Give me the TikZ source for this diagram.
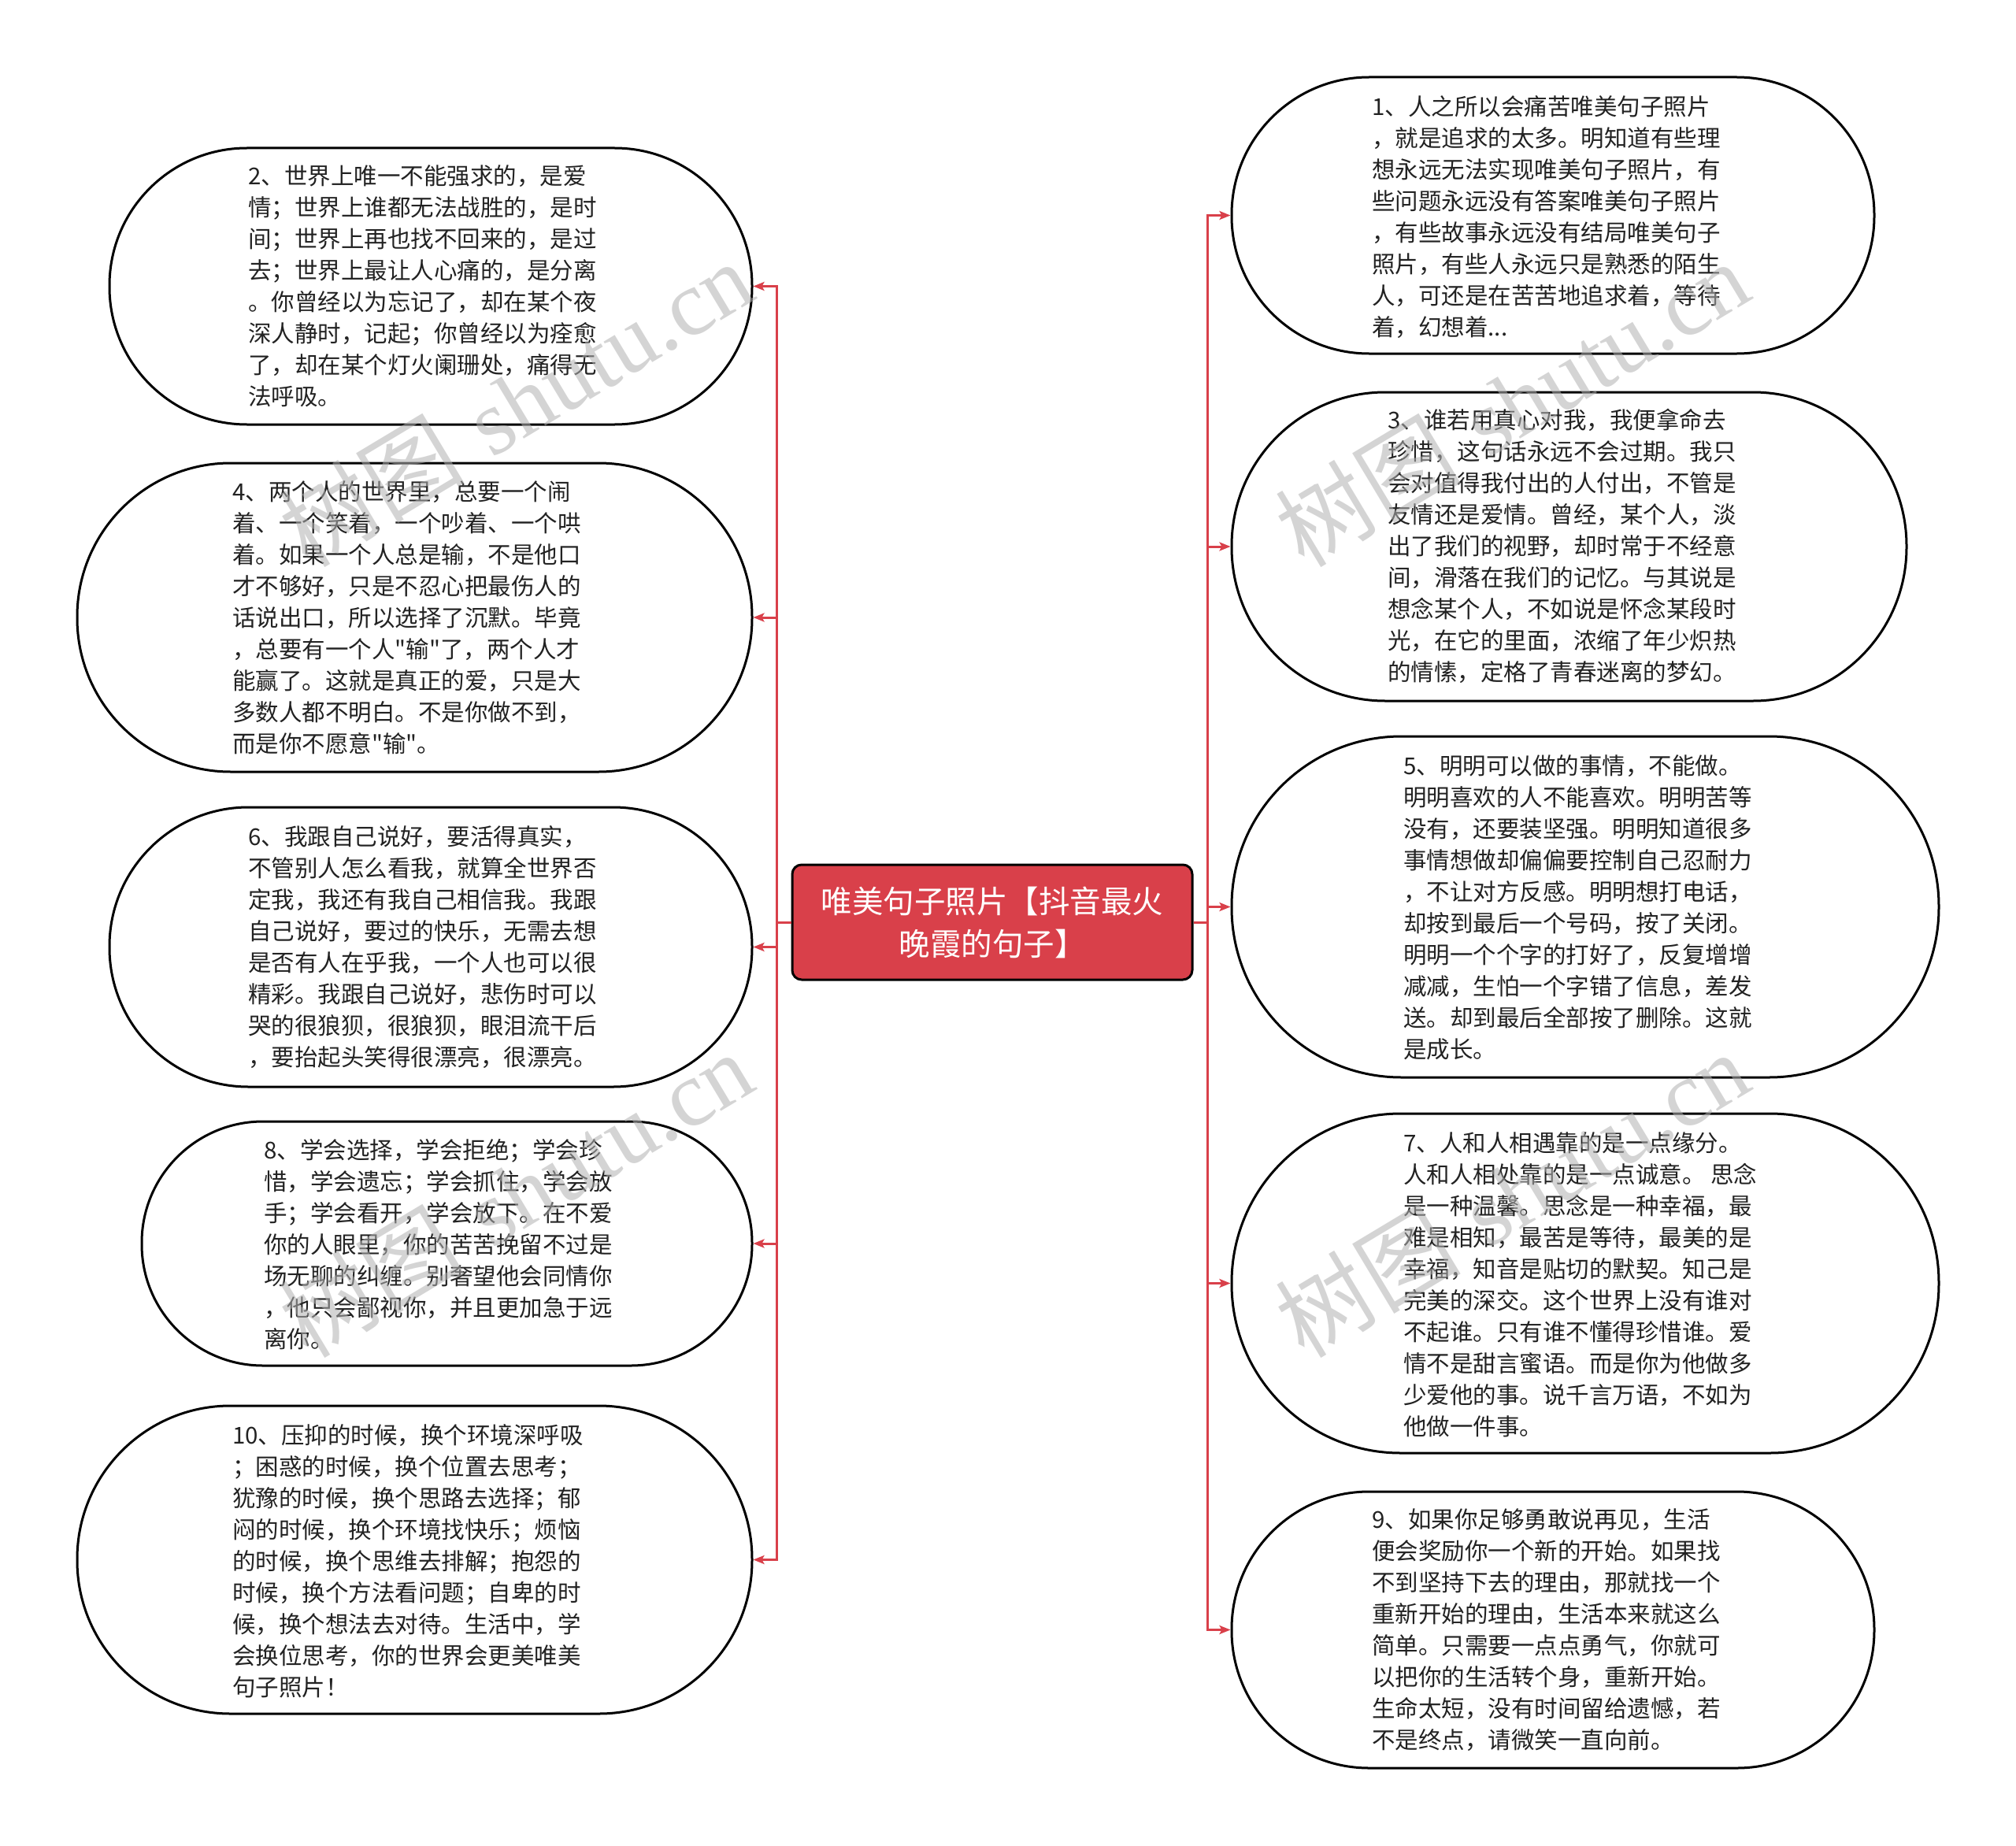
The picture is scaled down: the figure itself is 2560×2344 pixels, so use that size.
\documentclass[tikz,border=0pt]{standalone}
\usepackage{fontspec}
\newfontfamily\cjk{Noto Sans CJK SC}
\newfontfamily\wmserif{Liberation Serif}
\usetikzlibrary{arrows.meta}
\definecolor{brred}{HTML}{D9404A}
\definecolor{txtc}{HTML}{222222}
\begin{document}
\begin{tikzpicture}[x=1pt,y=-1pt,
  bubble/.style={draw=black, line width=3pt, fill=white, rectangle, inner sep=0pt},
  body/.style={anchor=west, inner sep=0pt, align=left, text=txtc,
    font=\cjk\fontsize{29.5pt}{40pt}\selectfont},
  root/.style={draw=black, line width=3pt, fill=brred, rounded corners=12pt,
    minimum width=508pt, minimum height=146pt, inner sep=0pt, align=center,
    text=white, font=\cjk\fontsize{39.5pt}{54pt}\selectfont},
  conn/.style={draw=brred, line width=3pt, -{Stealth[length=14pt,width=11pt,inset=3pt]}},
  wm/.style={text=black!30, opacity=0.55, inner sep=0pt,
    font=\fontsize{118pt}{118pt}\selectfont}]
\fill[white] (0,0) rectangle (2560,2344);
\useasboundingbox (0,0) rectangle (2560,2344);

% root
\node[root] (c) at (1260,1171) {唯美句子照片【抖音最火\\晚霞的句子】};

% left bubbles
\node[bubble, minimum width=816pt, minimum height=351pt, rounded corners=174.5pt] (n2) at (547,363.5) {};
\node[bubble, minimum width=857pt, minimum height=392pt, rounded corners=195pt] (n4) at (526.5,784) {};
\node[bubble, minimum width=816pt, minimum height=355pt, rounded corners=176.5pt] (n6) at (547,1202.5) {};
\node[bubble, minimum width=775pt, minimum height=310pt, rounded corners=154pt] (n8) at (567.5,1579) {};
\node[bubble, minimum width=857pt, minimum height=391pt, rounded corners=194.5pt] (n10) at (526.5,1980.5) {};
% right bubbles
\node[bubble, minimum width=816pt, minimum height=351pt, rounded corners=174.5pt] (n1) at (1972,273.5) {};
\node[bubble, minimum width=857pt, minimum height=392pt, rounded corners=195pt] (n3) at (1992.5,694) {};
\node[bubble, minimum width=898pt, minimum height=433pt, rounded corners=215.5pt] (n5) at (2013,1151.5) {};
\node[bubble, minimum width=898pt, minimum height=431pt, rounded corners=214.5pt] (n7) at (2013,1629.5) {};
\node[bubble, minimum width=816pt, minimum height=351pt, rounded corners=174.5pt] (n9) at (1972,2069.5) {};

% texts
\node[body] (t2) at (315,363.5) {2、世界上唯一不能强求的，是爱\\情；世界上谁都无法战胜的，是时\\间；世界上再也找不回来的，是过\\去；世界上最让人心痛的，是分离\\。你曾经以为忘记了，却在某个夜\\深人静时，记起；你曾经以为痊愈\\了，却在某个灯火阑珊处，痛得无\\法呼吸。};
\node[body] (t4) at (295,784) {4、两个人的世界里，总要一个闹\\着、一个笑着，一个吵着、一个哄\\着。如果一个人总是输，不是他口\\才不够好，只是不忍心把最伤人的\\话说出口，所以选择了沉默。毕竟\\，总要有一个人"输"了，两个人才\\能赢了。这就是真正的爱，只是大\\多数人都不明白。不是你做不到，\\而是你不愿意"输"。};
\node[body] (t6) at (315,1203) {6、我跟自己说好，要活得真实，\\不管别人怎么看我，就算全世界否\\定我，我还有我自己相信我。我跟\\自己说好，要过的快乐，无需去想\\是否有人在乎我，一个人也可以很\\精彩。我跟自己说好，悲伤时可以\\哭的很狼狈，很狼狈，眼泪流干后\\，要抬起头笑得很漂亮，很漂亮。};
\node[body] (t8) at (335,1580) {8、学会选择，学会拒绝；学会珍\\惜，学会遗忘；学会抓住，学会放\\手；学会看开，学会放下。在不爱\\你的人眼里，你的苦苦挽留不过是\\场无聊的纠缠。别奢望他会同情你\\，他只会鄙视你，并且更加急于远\\离你。};
\node[body] (t10) at (295,1982) {10、压抑的时候，换个环境深呼吸\\；困惑的时候，换个位置去思考；\\犹豫的时候，换个思路去选择；郁\\闷的时候，换个环境找快乐；烦恼\\的时候，换个思维去排解；抱怨的\\时候，换个方法看问题；自卑的时\\候，换个想法去对待。生活中，学\\会换位思考，你的世界会更美唯美\\句子照片！};
\node[body] (t1) at (1742,276) {1、人之所以会痛苦唯美句子照片\\，就是追求的太多。明知道有些理\\想永远无法实现唯美句子照片，有\\些问题永远没有答案唯美句子照片\\，有些故事永远没有结局唯美句子\\照片，有些人永远只是熟悉的陌生\\人，可还是在苦苦地追求着，等待\\着，幻想着...};
\node[body] (t3) at (1762,693) {3、谁若用真心对我，我便拿命去\\珍惜，这句话永远不会过期。我只\\会对值得我付出的人付出，不管是\\友情还是爱情。曾经，某个人，淡\\出了我们的视野，却时常于不经意\\间，滑落在我们的记忆。与其说是\\想念某个人，不如说是怀念某段时\\光，在它的里面，浓缩了年少炽热\\的情愫，定格了青春迷离的梦幻。};
\node[body] (t5) at (1782,1152) {5、明明可以做的事情，不能做。\\明明喜欢的人不能喜欢。明明苦等\\没有，还要装坚强。明明知道很多\\事情想做却偏偏要控制自己忍耐力\\，不让对方反感。明明想打电话，\\却按到最后一个号码，按了关闭。\\明明一个个字的打好了，反复增增\\减减，生怕一个字错了信息，差发\\送。却到最后全部按了删除。这就\\是成长。};
\node[body] (t7) at (1782,1631) {7、人和人相遇靠的是一点缘分。\\人和人相处靠的是一点诚意。 思念\\是一种温馨。思念是一种幸福，最\\难是相知，最苦是等待，最美的是\\幸福，知音是贴切的默契。知己是\\完美的深交。这个世界上没有谁对\\不起谁。只有谁不懂得珍惜谁。爱\\情不是甜言蜜语。而是你为他做多\\少爱他的事。说千言万语，不如为\\他做一件事。};
\node[body] (t9) at (1742,2070) {9、如果你足够勇敢说再见，生活\\便会奖励你一个新的开始。如果找\\不到坚持下去的理由，那就找一个\\重新开始的理由，生活本来就这么\\简单。只需要一点点勇气，你就可\\以把你的生活转个身，重新开始。\\生命太短，没有时间留给遗憾，若\\不是终点，请微笑一直向前。};

% connectors
\foreach \n in {n2,n4,n6,n8,n10}
  \draw[conn] (c.west) -- ++(-18,0) |- (\n.east);
\foreach \n in {n1,n3,n5,n7,n9}
  \draw[conn] (c.east) -- ++(18,0) |- (\n.west);

% watermarks
\node[wm, rotate=31] (w1) at (655,512) {{\cjk 树图} {\wmserif shutu.cn}};
\node[wm, rotate=31] (w2) at (1920,512) {{\cjk 树图} {\wmserif shutu.cn}};
\node[wm, rotate=31] (w3) at (655,1516) {{\cjk 树图} {\wmserif shutu.cn}};
\node[wm, rotate=31] (w4) at (1920,1516) {{\cjk 树图} {\wmserif shutu.cn}};
\end{tikzpicture}
\end{document}
